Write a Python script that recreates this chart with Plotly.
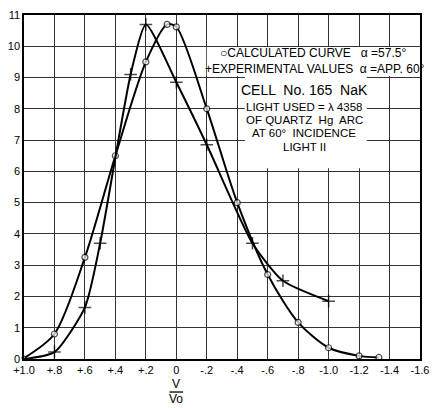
import plotly.graph_objects as go

# Calculated curve (open circles)
calc_x = [1.0, 0.8, 0.6, 0.4, 0.2, 0.06, 0.0, -0.2, -0.4, -0.6, -0.8, -1.0, -1.2, -1.33]
calc_y = [0.03, 0.8, 3.25, 6.5, 9.5, 10.7, 10.62, 8.0, 5.0, 2.7, 1.17, 0.36, 0.1, 0.05]

# Experimental values (crosses)
exp_x = [1.0, 0.8, 0.6, 0.5, 0.3, 0.2, 0.0, -0.2, -0.5, -0.7, -1.0]
exp_y = [0.0, 0.22, 1.65, 3.7, 9.1, 10.7, 8.85, 6.85, 3.7, 2.5, 1.85]

x_ticks = [1.0, 0.8, 0.6, 0.4, 0.2, 0.0, -0.2, -0.4, -0.6, -0.8, -1.0, -1.2, -1.4, -1.6]
x_labels = ["+1.0", "+.8", "+.6", "+.4", "+.2", "0", "-.2", "-.4", "-.6", "-.8", "-1.0", "-1.2", "-1.4", "-1.6"]
y_ticks = list(range(0, 12))

FONT = "Liberation Sans"

fig = go.Figure()
fig.add_trace(go.Scatter(
    x=calc_x, y=calc_y, mode="lines+markers",
    line=dict(color="black", width=2, shape="spline", smoothing=0.8),
    marker=dict(symbol="circle", size=[4] + [6] * (len(calc_x) - 1), color="white",
                line=dict(color="black", width=1.2)),
    showlegend=False, cliponaxis=False))
fig.add_trace(go.Scatter(
    x=exp_x, y=exp_y, mode="lines+markers",
    line=dict(color="black", width=2, shape="spline", smoothing=0.6),
    marker=dict(symbol="cross-thin", size=[0] + [9] * (len(exp_x) - 1), color="black",
                line=dict(color="black", width=1.5)),
    showlegend=False, cliponaxis=False))

# white boxes for text blocks (cover gridlines)
fig.add_shape(type="rect", xref="x", yref="y", x0=-0.2, x1=-1.58, y0=9.05, y1=9.98,
              fillcolor="white", line=dict(width=0), layer="between")
fig.add_shape(type="rect", xref="x", yref="y", x0=-0.45, x1=-1.25, y0=6.1, y1=9.1,
              fillcolor="white", line=dict(width=0), layer="between")

ann = [
    ("\u25cbCALCULATED CURVE   \u03b1 =57.5\u00b0", -0.9, 9.8, 12),
    ("+EXPERIMENTAL VALUES  \u03b1 =APP. 60\u00b0", -0.91, 9.27, 12),
    ("CELL  No. 165  NaK", -0.84, 8.6, 14),
    ("LIGHT USED = \u03bb 4358", -0.84, 8.05, 11.5),
    ("OF QUARTZ  Hg  ARC", -0.84, 7.64, 11.5),
    ("AT 60\u00b0  INCIDENCE", -0.84, 7.22, 11.5),
    ("LIGHT II", -0.84, 6.77, 11.5),
]
for t, x, y, s in ann:
    fig.add_annotation(x=x, y=y, xref="x", yref="y", text=t, showarrow=False,
                       font=dict(family=FONT, size=s, color="black"))

# axis title V / Vo as a fraction
fig.add_annotation(x=0.0, y=-0.074, xref="x", yref="paper", text="V", showarrow=False,
                   font=dict(family=FONT, size=12, color="black"), yanchor="middle")
fig.add_shape(type="line", xref="x", yref="paper", x0=0.045, x1=-0.045, y0=-0.096, y1=-0.096,
              line=dict(color="black", width=1.3))
fig.add_annotation(x=0.0, y=-0.116, xref="x", yref="paper", text="Vo", showarrow=False,
                   font=dict(family=FONT, size=12, color="black"), yanchor="middle")

fig.update_xaxes(range=[1.0, -1.6], tickvals=x_ticks, ticktext=x_labels,
                 showgrid=True, gridcolor="#333", gridwidth=1, zeroline=False,
                 showline=True, linecolor="black", linewidth=1.5, mirror=True,
                 ticks="", ticklabeloverflow="allow",
                 tickfont=dict(family=FONT, size=11, color="black"))
fig.update_yaxes(range=[0, 11], tickvals=y_ticks,
                 showgrid=True, gridcolor="#333", gridwidth=1, zeroline=False,
                 showline=True, linecolor="black", linewidth=1.5, mirror=True,
                 ticks="", tickfont=dict(family=FONT, size=11, color="black"))

fig.update_layout(width=435, height=408, margin=dict(l=24, r=6, t=15, b=49),
                  plot_bgcolor="white", paper_bgcolor="white",
                  font=dict(family=FONT))
fig.write_html("out.html")
